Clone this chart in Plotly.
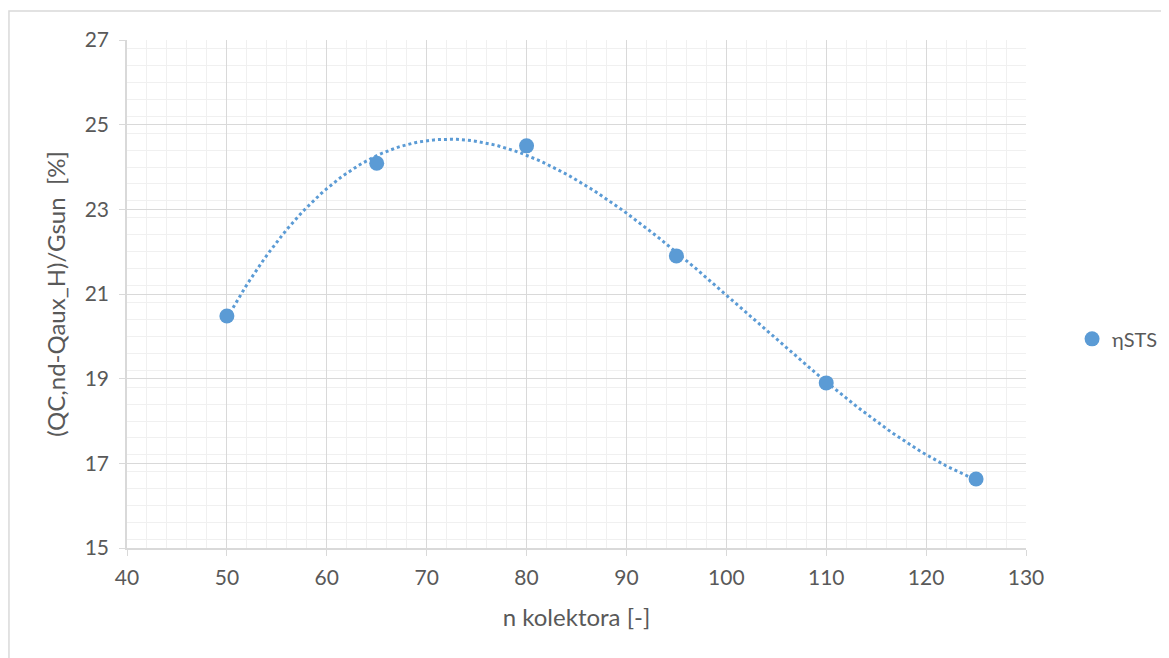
import numpy as np
import plotly.graph_objects as go

n_kolektora = [50, 65, 80, 95, 110, 125]
eta_sts = [20.48, 24.09, 24.50, 21.90, 18.90, 16.63]
x_ticks = [40, 50, 60, 70, 80, 90, 100, 110, 120, 130]
y_ticks = [15, 17, 19, 21, 23, 25, 27]

coef = np.polyfit(n_kolektora, eta_sts, 3)
xt = np.linspace(min(n_kolektora), max(n_kolektora), 200)
yt = np.polyval(coef, xt)

blue = "#5B9BD5"
grey = "#595959"
font = "Lato, Open Sans, sans-serif"

fig = go.Figure()
fig.add_trace(go.Scatter(x=xt, y=yt, mode="lines", showlegend=False,
                         line=dict(color=blue, width=3, dash="dot"), hoverinfo="skip"))
fig.add_trace(go.Scatter(x=n_kolektora, y=eta_sts, mode="markers", name="ηSTS",
                         marker=dict(color=blue, size=15)))

fig.update_layout(
    width=1161, height=650,
    margin=dict(l=119, r=143, t=32, b=110),
    paper_bgcolor="white", plot_bgcolor="white",
    font=dict(family=font, color=grey, size=21),
    legend=dict(xref="container", yref="container", x=0.9165, y=0.491,
                xanchor="left", yanchor="middle",
                font=dict(size=20, color=grey), itemwidth=30),
    shapes=[dict(type="rect", xref="paper", yref="paper",
                 x0=-0.1313, x1=1.3, y0=-0.4, y1=1.057,
                 line=dict(color="#D9D9D9", width=1.5), layer="below")],
)
fig.update_xaxes(range=[40, 130], tickvals=x_ticks, showgrid=True, gridcolor="#D9D9D9",
                 gridwidth=1, showline=True, linecolor="#D9D9D9", linewidth=1.5,
                 ticks="outside", tickcolor="#D9D9D9", ticklen=6, ticklabelstandoff=4,
                 minor=dict(dtick=2, showgrid=True, gridcolor="#F0F0F0", gridwidth=1),
                 zeroline=False, tickfont=dict(size=21, color=grey),
                 title=dict(text="n kolektora [-]", font=dict(size=24, color=grey), standoff=21))
fig.update_yaxes(range=[15, 27], tickvals=y_ticks, showgrid=True, gridcolor="#D9D9D9",
                 gridwidth=1, showline=True, linecolor="#D9D9D9", linewidth=1.5,
                 ticks="outside", tickcolor="#D9D9D9", ticklen=6, ticklabelstandoff=6,
                 minor=dict(dtick=0.4, showgrid=True, gridcolor="#F0F0F0", gridwidth=1),
                 zeroline=False, tickfont=dict(size=21, color=grey),
                 title=dict(text="(QC,nd-Qaux_H)/Gsun  [%]", font=dict(size=24, color=grey), standoff=12))

fig.write_html("out.html")
